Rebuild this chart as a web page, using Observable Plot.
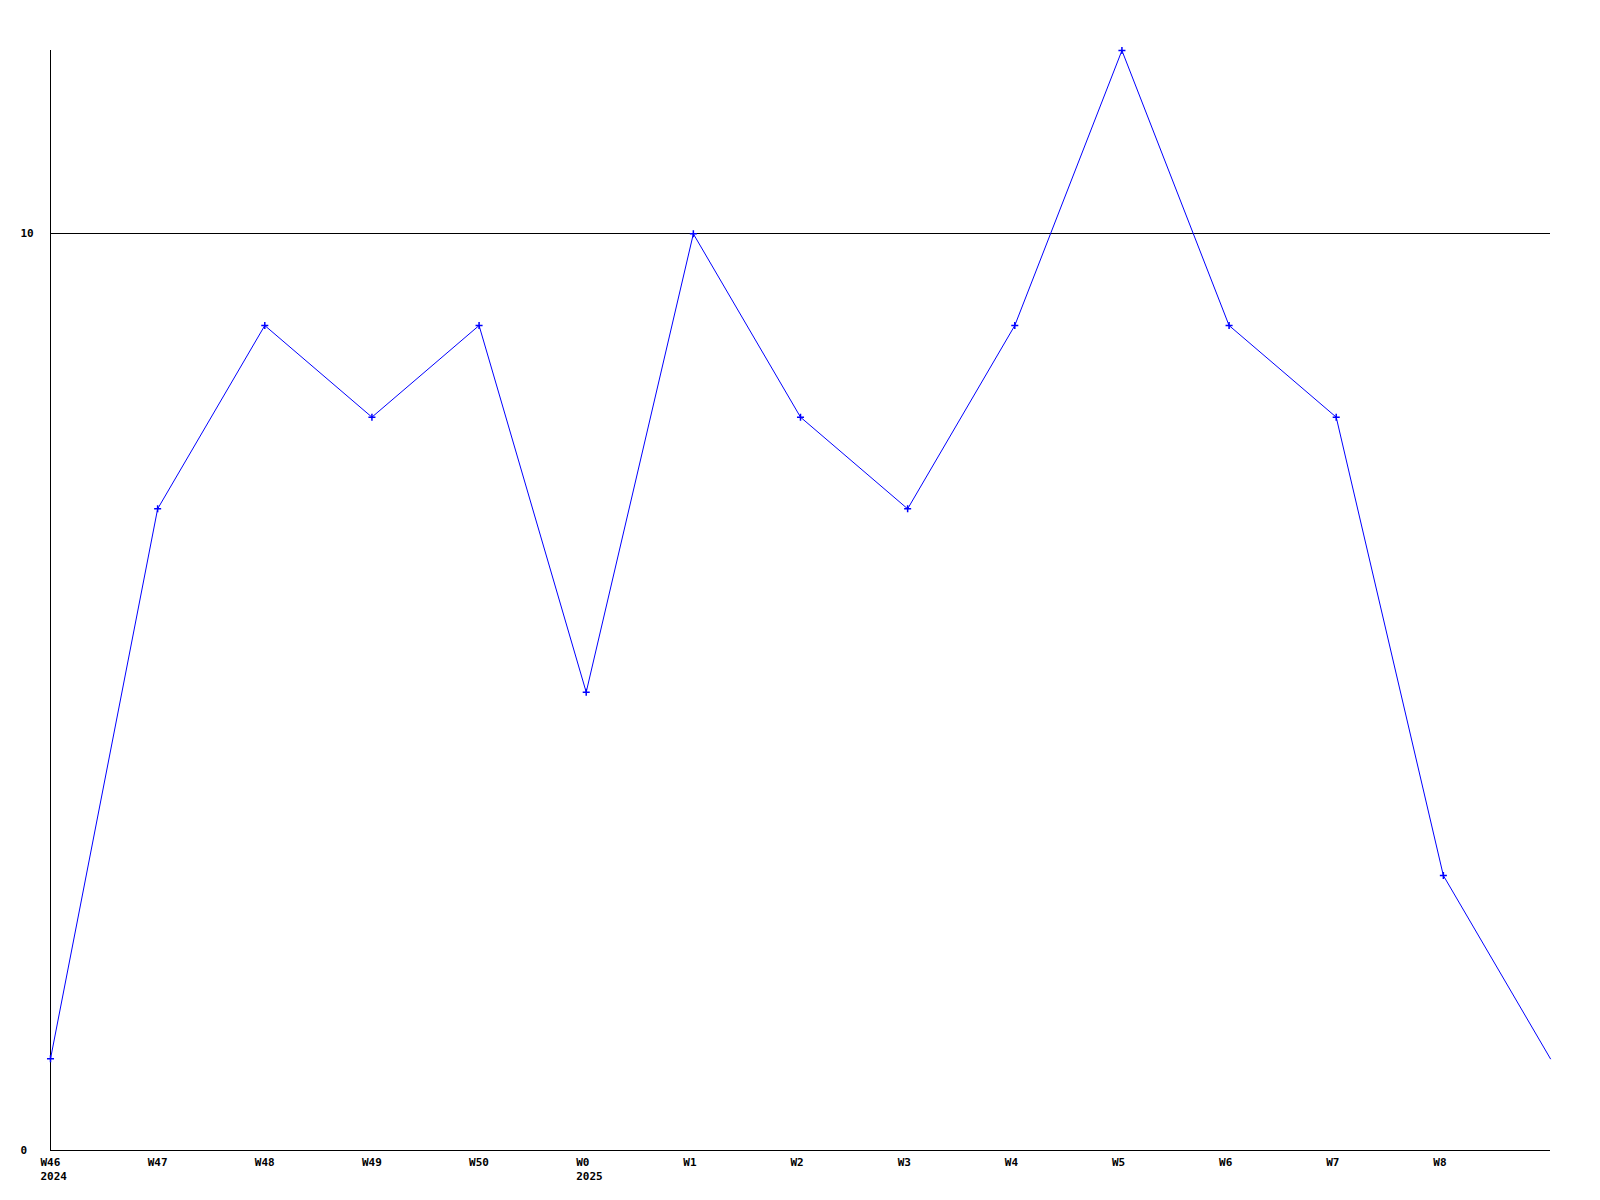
<!DOCTYPE html>
<html>
<head>
<meta charset="utf-8">
<script src="https://cdn.jsdelivr.net/npm/d3@7"></script>
<script src="https://cdn.jsdelivr.net/npm/@observablehq/plot@0.6"></script>
<style>
  html, body { margin: 0; padding: 0; background: #fff; }
  #chart svg { display: block; }
</style>
</head>
<body>
<div id="chart"></div>
<script>
// Week labels (x ticks) and year sub-labels
const weekLabels = ["W46","W47","W48","W49","W50","W0","W1","W2","W3","W4","W5","W6","W7","W8"];
const yearLabels = ["2024","","","","","2025","","","","","","","",""];
// Series values, one per week (the last point has no tick label and no marker)
const values = [1, 7, 9, 8, 9, 5, 10, 8, 7, 9, 12, 9, 8, 3, 1];
const yTicks = [0, 10];
const gridValues = [10];

const data = values.map((v, i) => ({i, v}));
const markerData = data.filter(d => d.i < weekLabels.length);
const font = "'DejaVu Sans Mono', 'Liberation Mono', monospace";

const chart = Plot.plot({
  width: 1600,
  height: 1200,
  marginLeft: 50,
  marginRight: 50,
  marginTop: 50,
  marginBottom: 50,
  style: {fontFamily: font, fontSize: "11px", fontWeight: "bold", background: "#fff", color: "#000"},
  x: {type: "linear", domain: [0, values.length - 1]},
  y: {domain: [0, 12]},
  marks: [
    Plot.ruleY(gridValues, {stroke: "#000", strokeWidth: 1, shapeRendering: "crispEdges"}),
    Plot.ruleY([0], {stroke: "#000", strokeWidth: 1, shapeRendering: "crispEdges"}),
    Plot.ruleX([0], {stroke: "#000", strokeWidth: 1, shapeRendering: "crispEdges"}),
    Plot.axisY({ticks: yTicks, tickSize: 0, tickPadding: 0, textAnchor: "start", dx: -30, label: null, fontWeight: "bold"}),
    Plot.axisX({
      ticks: d3.range(weekLabels.length),
      tickSize: 0,
      tickPadding: 5,
      textAnchor: "start",
      dx: -10,
      label: null,
      lineHeight: 1.3,
      tickFormat: i => yearLabels[i] ? weekLabels[i] + "\n" + yearLabels[i] : weekLabels[i]
    }),
    Plot.line(data, {x: "i", y: "v", stroke: "#0000ff", strokeWidth: 1}),
    Plot.dot(markerData, {x: "i", y: "v", symbol: "plus", r: 2.4, fill: "#0000ff", stroke: "#0000ff", strokeWidth: 1.5})
  ]
});
document.getElementById("chart").appendChild(chart);
</script>
</body>
</html>
